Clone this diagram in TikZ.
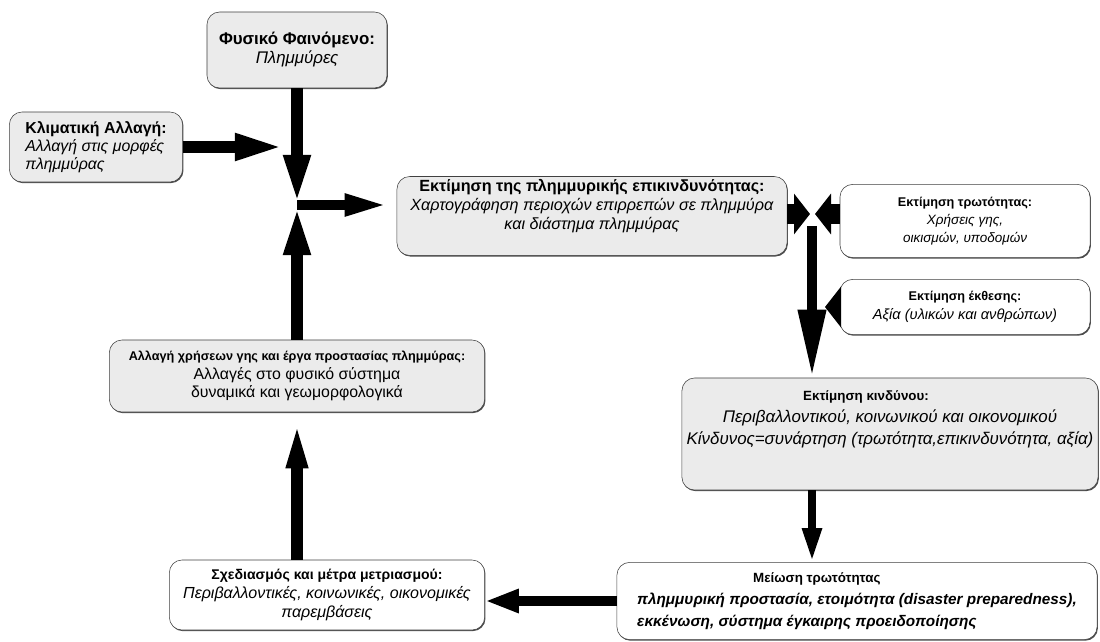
\documentclass[tikz,border=0pt]{standalone}
\usepackage{fontspec}
\setmainfont{Liberation Sans}
\usetikzlibrary{arrows.meta}
\usetikzlibrary{shadows}
\newcommand{\fsz}[1]{\fontsize{#1}{14}\selectfont}
\tikzset{
  graybox/.style={draw=black!75, rounded corners=9pt, fill=black!8, align=center, inner sep=2pt,
    drop shadow={shadow xshift=0.6pt, shadow yshift=-0.8pt, fill=black!70, opacity=1}},
  whitebox/.style={draw=black!75, rounded corners=9pt, fill=white, align=center, inner sep=2pt,
    drop shadow={shadow xshift=0.6pt, shadow yshift=-0.8pt, fill=black!70, opacity=1}},
  fatarrow/.style={line width=3mm, -{Triangle[length=12.5mm, width=6mm]}},
  longarrow/.style={line width=2.5mm, -{Triangle[length=17mm, width=6.5mm]}},
  stubarrow/.style={line width=5mm, -{Triangle[length=4mm, width=10mm]}},
  thinarrow/.style={line width=2mm, -{Triangle[length=8.5mm, width=4.5mm]}},
}

\begin{document}
\begin{tikzpicture}[x=0.025cm, y=-0.025cm, font=\fontsize{11}{13.5}\selectfont]
  \useasboundingbox (0,0) rectangle (1100,642);

  % 坐标点定义
  \coordinate (J1) at (297,205);
  \coordinate (K1) at (285,147);
  \coordinate (J2) at (812,214);
  \coordinate (J2a) at (810,214);
  \coordinate (J2b) at (815,214);
  \coordinate (J2c) at (812,226);
  \coordinate (E2) at (825,307);

  % 方框
  \node[graybox, minimum width=4.5cm, minimum height=1.9cm, font=\fontsize{12}{13.5}\selectfont] (fys) at (297,50)
    {\textbf{Φυσικό Φαινόμενο:}\\\textit{Πλημμύρες}};
  \node[graybox, align=left, minimum width=4.33cm, minimum height=1.75cm, font=\fontsize{11.3}{13}\selectfont] (klim) at (96,147)
    {\textbf{Κλιματική Αλλαγή:}\\\textit{Αλλαγή στις μορφές}\\\textit{πλημμύρας}};
  \node[graybox, minimum width=9.75cm, minimum height=1.93cm, font=\fontsize{11.5}{13.5}\selectfont] (ektpl) at (592,216)
    {\textbf{Εκτίμηση της πλημμυρικής επικινδυνότητας:}\\
     \textit{Χαρτογράφηση περιοχών επιρρεπών σε πλημμύρα}\\
     \textit{και διάστημα πλημμύρας}\\[3pt]};
  \node[whitebox, minimum width=6.25cm, minimum height=1.83cm, font=\fontsize{9.6}{13}\selectfont] (trot) at (965,221)
    {{\fsz{9}\textbf{Εκτίμηση τρωτότητας:}}\\\textit{Χρήσεις γης,}\\\textit{οικισμών, υποδομών}};
  \node[whitebox, minimum width=6.25cm, minimum height=1.38cm, font=\fontsize{10.4}{13.5}\selectfont] (ekth) at (965,307)
    {{\fsz{9}\textbf{Εκτίμηση έκθεσης:}}\\\textit{Αξία (υλικών και ανθρώπων)}};
  \node[graybox, minimum width=10.4cm, minimum height=2.8cm, font=\fontsize{12}{15.5}\selectfont] (kind) at (890,434)
    {\hspace*{-1.2cm}{\fsz{9.5}\textbf{Εκτίμηση κινδύνου:}}\\
     \textit{Περιβαλλοντικού, κοινωνικού και οικονομικού}\hspace*{1cm}\\
     \textit{Κίνδυνος=συνάρτηση (τρωτότητα,επικινδυνότητα, αξία)}\\[8pt]};
  \node[graybox, minimum width=9.38cm, minimum height=1.8cm, font=\fontsize{11.3}{13}\selectfont] (allag) at (297,376)
    {{\fsz{9}\textbf{Αλλαγή χρήσεων γης και έργα προστασίας πλημμύρας:}}\\
     Αλλαγές στο φυσικό σύστημα\\
     δυναμικά και γεωμορφολογικά};
  \node[whitebox, minimum width=7.88cm, minimum height=1.75cm, font=\fontsize{11.4}{13.5}\selectfont] (sxed) at (327,595)
    {{\fsz{10}\textbf{Σχεδιασμός και μέτρα μετριασμού:}}\\
     \textit{Περιβαλλοντικές, κοινωνικές, οικονομικές}\\
     \textit{παρεμβάσεις}};
  \node[whitebox, align=left, minimum width=12cm, minimum height=1.93cm, font=\fontsize{10.9}{15.5}\selectfont] (meios) at (857,601)
    {\hspace*{2.9cm}{\fsz{9.5}\textbf{Μείωση τρωτότητας}}\\
     \textbf{\textit{πλημμυρική προστασία, ετοιμότητα (disaster preparedness),}}\\
     \textbf{\textit{εκκένωση, σύστημα έγκαιρης προειδοποίησης}}};

  % 箭头
  \draw[fatarrow] (fys.south) -- (J1);
  \draw[fatarrow] (klim.east) -- (K1);
  \draw[fatarrow] (allag.north) -- (J1);
  \draw[fatarrow, line width=2.5mm, -{Triangle[length=11mm, width=5mm]}, shorten >=2mm] (J1) -- (J1 -| ektpl.west);
  \draw[stubarrow] (ektpl.east |- J2a) -- (J2a);
  \draw[stubarrow] (trot.west |- J2b) -- (J2b);
  \draw[stubarrow] (ekth.west) -- (E2);
  \draw[longarrow] (J2c) -- (J2c |- kind.north);
  \draw[thinarrow] (kind.south -| J2c) -- (meios.north -| J2c);
  \draw[thinarrow, line width=2.5mm, -{Triangle[length=8.5mm, width=5.5mm]}] (meios.west) -- (meios.west -| sxed.east);
  \draw[fatarrow, -{Triangle[length=14mm, width=4.5mm]}] (allag.south |- sxed.north) -- (allag.south);
\end{tikzpicture}
\end{document}
